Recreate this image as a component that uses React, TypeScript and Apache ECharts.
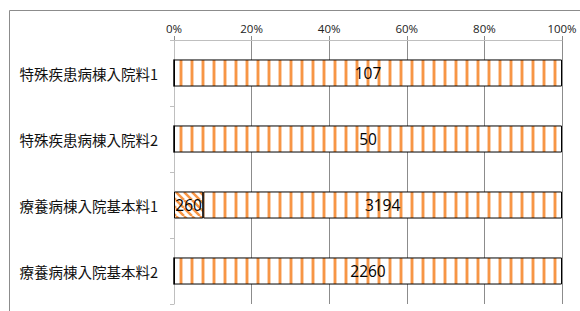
import React, { useEffect, useRef } from "react";
import * as echarts from "echarts";

const categories = ["特殊疾患病棟入院料1", "特殊疾患病棟入院料2", "療養病棟入院基本料1", "療養病棟入院基本料2"];
const seriesA = [0, 0, 260, 0];
const seriesB = [107, 50, 3194, 2260];
const tickLabels = ["0%", "20%", "40%", "60%", "80%", "100%"];

function makeVertical(): HTMLCanvasElement {
  const c = document.createElement("canvas");
  c.width = 11;
  c.height = 4;
  const g = c.getContext("2d")!;
  g.fillStyle = "#ffffff";
  g.fillRect(0, 0, 11, 4);
  g.fillStyle = "#fbd0ad";
  g.fillRect(3, 0, 1, 4);
  g.fillRect(6, 0, 1, 4);
  g.fillStyle = "#f79646";
  g.fillRect(4, 0, 2, 4);
  return c;
}

function makeDiagonal(): HTMLCanvasElement {
  const c = document.createElement("canvas");
  c.width = 8;
  c.height = 8;
  const g = c.getContext("2d")!;
  g.fillStyle = "#ffffff";
  g.fillRect(0, 0, 8, 8);
  g.strokeStyle = "#f79646";
  g.lineWidth = 2.5;
  g.beginPath();
  for (let k = -16; k <= 16; k += 8) {
    g.moveTo(k, 0);
    g.lineTo(k + 8, 8);
  }
  g.stroke();
  return c;
}

export default function App() {
  const ref = useRef<HTMLDivElement>(null);
  useEffect(() => {
    if (!ref.current) return;
    const chart = echarts.init(ref.current, undefined, { renderer: "svg" });
    const totals = categories.map((_, i) => seriesA[i] + seriesB[i]);
    const pctA = seriesA.map((v, i) => (v / totals[i]) * 100);
    const pctB = seriesB.map((v, i) => (v / totals[i]) * 100);
    const labelFmt = (raw: number[]) => (p: any) => (raw[p.dataIndex] ? String(raw[p.dataIndex]) : "");
    const font = "'Noto Sans CJK JP', 'Noto Sans', sans-serif";
    const numFont = "'Open Sans', 'Noto Sans', sans-serif";
    chart.setOption({
      animation: false,
      textStyle: { fontFamily: font },
      graphic: [
        {
          type: "line",
          shape: { x1: 9.5, y1: 10.5, x2: 600, y2: 10.5 },
          style: { stroke: "#8c8c8c", lineWidth: 1 },
          silent: true,
        },
        {
          type: "line",
          shape: { x1: 9.5, y1: 10.5, x2: 9.5, y2: 400 },
          style: { stroke: "#8c8c8c", lineWidth: 1 },
          silent: true,
        },
      ],
      grid: { left: 174, right: 18, top: 40, bottom: 7, containLabel: false },
      xAxis: {
        type: "value",
        position: "top",
        min: 0,
        max: 100,
        interval: 20,
        axisLine: { show: true, lineStyle: { color: "#bfbfbf" } },
        axisTick: { show: true, length: 4, lineStyle: { color: "#8c8c8c" } },
        splitLine: { show: true, lineStyle: { color: "#8c8c8c" } },
        axisLabel: {
          formatter: (v: number) => tickLabels[Math.round(v / 20)],
          fontSize: 11.5,
          color: "#222",
          margin: 6,
          fontFamily: numFont,
        },
      },
      yAxis: {
        type: "category",
        data: categories,
        inverse: true,
        axisLine: { show: true, lineStyle: { color: "#bfbfbf" } },
        axisTick: { show: true, length: 4, lineStyle: { color: "#bfbfbf" } },
        axisLabel: { fontSize: 14.5, color: "#111", margin: 16, fontFamily: font },
      },
      series: [
        {
          name: "A",
          type: "bar",
          stack: "t",
          barWidth: "41%",
          data: pctA,
          itemStyle: {
            color: { image: makeDiagonal(), repeat: "repeat" },
            borderColor: "#000",
            borderWidth: 1,
          },
          label: {
            show: true,
            position: "inside",
            formatter: labelFmt(seriesA),
            fontSize: 15.5,
            color: "#000",
            fontFamily: numFont,
          },
        },
        {
          name: "B",
          type: "bar",
          stack: "t",
          barWidth: "41%",
          data: pctB,
          itemStyle: {
            color: { image: makeVertical(), repeat: "repeat" },
            borderColor: "#000",
            borderWidth: 1,
          },
          label: {
            show: true,
            position: "inside",
            formatter: labelFmt(seriesB),
            fontSize: 15.5,
            color: "#000",
            fontFamily: numFont,
          },
        },
      ],
    });
    return () => chart.dispose();
  }, []);
  return (
    <div
      ref={ref}
      style={{ position: "fixed", left: 0, top: 0, width: 580, height: 311, background: "#fff" }}
    />
  );
}
